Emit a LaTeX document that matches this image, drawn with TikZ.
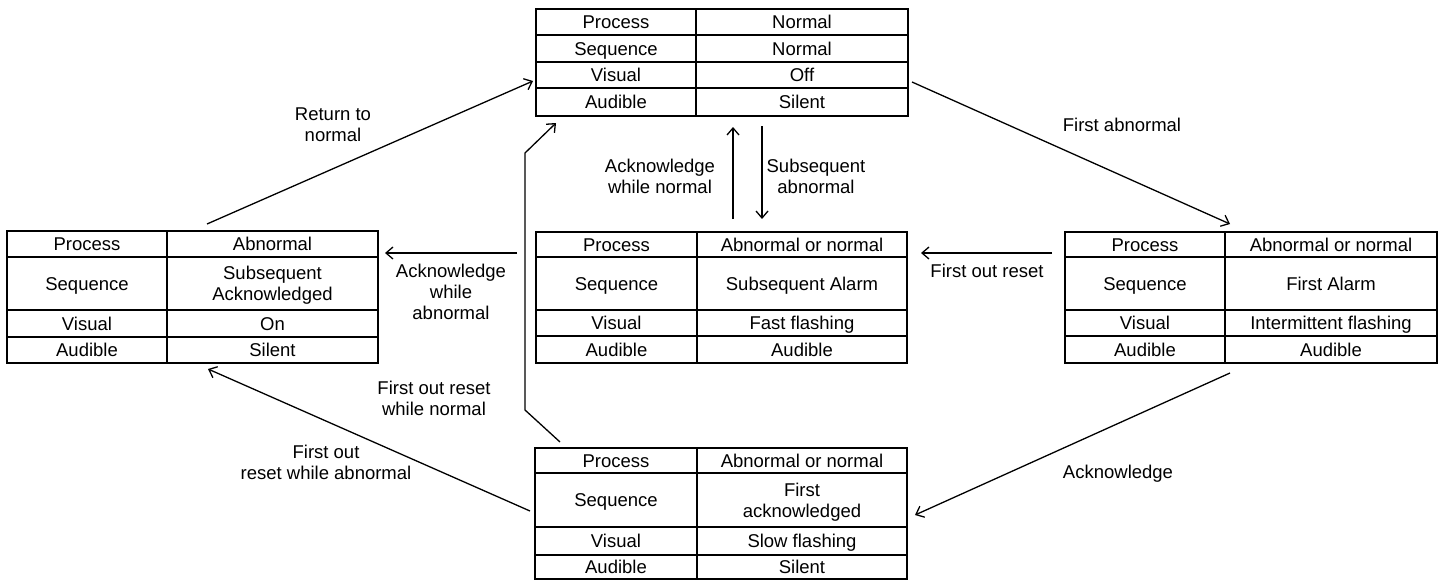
\documentclass[tikz,border=0pt]{standalone}
\usepackage{fontspec}
\setmainfont{Liberation Sans}
\usetikzlibrary{arrows.meta}
\newcommand\fs{\fontsize{18.5}{21}\selectfont}
\newcommand\tbox[6]{% name, x1, xdiv, x2, y1, y2
  \node[box, anchor=north west, minimum width={#4pt-#2pt}, minimum height={#6pt-#5pt}] (#1) at (#2,#5) {};
  \draw[tbl] (#3,#5) -- (#3,#6);
  \def\xa{#2}\def\xd{#3}\def\xb{#4}}
\newcommand\hsep[1]{\draw[tbl] (\xa,#1) -- (\xb,#1);}
\newcommand\trow[6]{% name, ytop, ybot, right style, left text, right text
  \node[cell] (#1-l) at ({(\xa+\xd)/2},{(#2+#3)/2}) {#5};
  \node[#4] (#1-r) at ({(\xd+\xb)/2},{(#2+#3)/2}) {#6};}
\begin{document}
\begin{tikzpicture}[x=1pt,y=-1pt,
  tbl/.style={line width=1.6pt},
  box/.style={draw, line width=1.6pt, inner sep=0pt, outer sep=0pt},
  cell/.style={inner sep=0pt, align=center, font=\fs, text height=13.25pt, text depth=0pt},
  cell2/.style={cell, text height=34.25pt},
  lbl/.style={cell},
  lbl2/.style={cell, text height=34.25pt},
  lbl3/.style={cell, text height=55.25pt},
  arr/.style={line width=1.3pt, -{Straight Barb[length=7pt,width=12pt,line width=1.3pt]}},
]
\useasboundingbox (0,0) rectangle (1445,581);

% Top table
\tbox{T}{536}{696}{908}{9}{116}
\hsep{35}\hsep{62}\hsep{88}
\trow{T1}{9}{35}{cell}{Process}{Normal}
\trow{T2}{35}{62}{cell}{Sequence}{Normal}
\trow{T3}{62}{88}{cell}{Visual}{Off}
\trow{T4}{88}{116}{cell}{Audible}{Silent}

% Left table
\tbox{L}{7}{167}{378}{231}{363}
\hsep{257}\hsep{310}\hsep{337}
\trow{L1}{231}{257}{cell}{Process}{Abnormal}
\trow{L2}{257}{310}{cell2}{Sequence}{Subsequent\\Acknowledged}
\trow{L3}{310}{337}{cell}{Visual}{On}
\trow{L4}{337}{363}{cell}{Audible}{Silent}

% Middle table
\tbox{M}{536}{697}{907}{232}{363}
\hsep{257}\hsep{310}\hsep{336}
\trow{M1}{232}{257}{cell}{Process}{Abnormal or normal}
\trow{M2}{257}{310}{cell}{Sequence}{Subsequent Alarm}
\trow{M3}{310}{336}{cell}{Visual}{Fast flashing}
\trow{M4}{336}{363}{cell}{Audible}{Audible}

% Right table
\tbox{R}{1065}{1225}{1437}{232}{363}
\hsep{257}\hsep{310}\hsep{336}
\trow{R1}{232}{257}{cell}{Process}{Abnormal or normal}
\trow{R2}{257}{310}{cell}{Sequence}{First Alarm}
\trow{R3}{310}{336}{cell}{Visual}{Intermittent flashing}
\trow{R4}{336}{363}{cell}{Audible}{Audible}

% Bottom table
\tbox{B}{535}{697}{907}{448}{579}
\hsep{473}\hsep{527}\hsep{555}
\trow{B1}{448}{473}{cell}{Process}{Abnormal or normal}
\trow{B2}{473}{527}{cell2}{Sequence}{First\\acknowledged}
\trow{B3}{527}{555}{cell}{Visual}{Slow flashing}
\trow{B4}{555}{579}{cell}{Audible}{Silent}

% connector end points
\coordinate (LT-a) at (207,224);   \coordinate (LT-b) at (533,81);
\coordinate (TR-a) at (912,82);    \coordinate (TR-b) at (1230,224);
\coordinate (MT-a) at (733,219);   \coordinate (MT-b) at (733,127);
\coordinate (TM-a) at (762,126);   \coordinate (TM-b) at (762,219);
\coordinate (ML-a) at (517,253);   \coordinate (ML-b) at (385,253);
\coordinate (RM-a) at (1052,253);  \coordinate (RM-b) at (921,253);
\coordinate (RB-a) at (1230,373);  \coordinate (RB-b) at (915,515);
\coordinate (BL-a) at (530,511);   \coordinate (BL-b) at (208,369);
\coordinate (BT-a) at (560,442);   \coordinate (BT-c1) at (525,410);
\coordinate (BT-c2) at (525,153);  \coordinate (BT-b) at (556,123);

\draw[arr] (LT-a) -- (LT-b);
\draw[arr] (TR-a) -- (TR-b);
\draw[arr] (MT-a) -- (MT-b);
\draw[arr] (TM-a) -- (TM-b);
\draw[arr] (ML-a) -- (ML-b);
\draw[arr] (RM-a) -- (RM-b);
\draw[arr] (RB-a) -- (RB-b);
\draw[arr] (BL-a) -- (BL-b);
\draw[arr] (BT-a) -- (BT-c1) -- (BT-c2) -- (BT-b);

% labels
\node[lbl2] (l-rtn) at (333,124) {Return to\\normal};
\node[lbl] (l-fa) at (1122,125) {First abnormal};
\node[lbl2] (l-awn) at (660,176.5) {Acknowledge\\while normal};
\node[lbl2] (l-sa) at (816,176.5) {Subsequent\\abnormal};
\node[lbl3] (l-awa) at (451,291.5) {Acknowledge\\while\\abnormal};
\node[lbl] (l-for) at (987,271) {First out reset};
\node[lbl2] (l-forn) at (434,398.5) {First out reset\\while normal};
\node[lbl2] (l-fora) at (326,462.5) {First out\\reset while abnormal};
\node[lbl] (l-ack) at (1118,472) {Acknowledge};
\end{tikzpicture}
\end{document}
